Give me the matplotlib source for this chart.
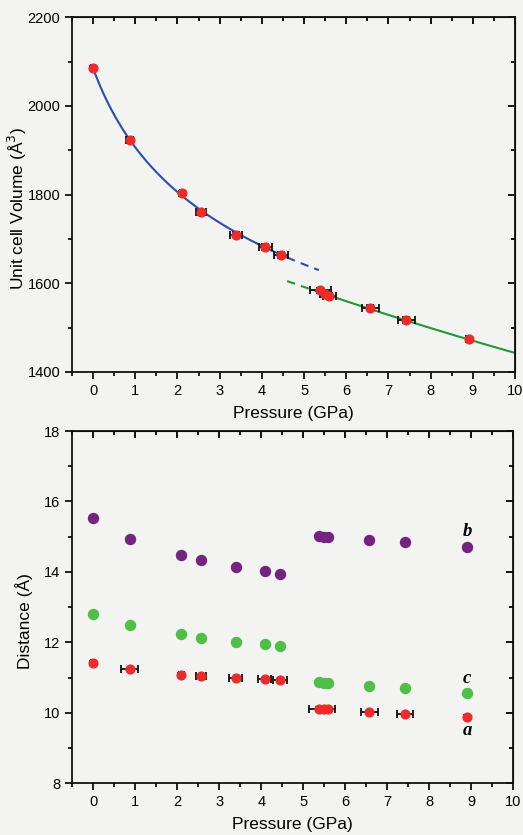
import numpy as np
import matplotlib
matplotlib.use("Agg")
import matplotlib.pyplot as plt
from matplotlib.ticker import MultipleLocator

plt.rcParams['font.family'] = ['Liberation Sans', 'DejaVu Sans']

# ---- data ----
pressure = [0.0, 0.87, 2.10, 2.56, 3.39, 4.08, 4.45, 5.38, 5.50, 5.60, 6.57, 7.42, 8.90]
p_err = [0.04, 0.08, 0.05, 0.12, 0.15, 0.15, 0.17, 0.25, 0.12, 0.15, 0.20, 0.20, 0.05]
volume = [2085, 1923, 1803, 1760, 1710, 1682, 1664, 1584, 1575, 1572, 1545, 1517, 1474]
v_err = [5, 6, 5, 6, 6, 6, 6, 6, 6, 6, 6, 6, 6]
dist_a = [11.41, 11.25, 11.08, 11.04, 10.98, 10.95, 10.92, 10.12, 10.10, 10.10, 10.03, 9.97, 9.88]
dist_a_err = [0.06, 0.02, 0.06, 0.04, 0.03, 0.03, 0.03, 0.04, 0.05, 0.04, 0.03, 0.03, 0.06]
p_err_a = [0.04, 0.20, 0.06, 0.12, 0.15, 0.15, 0.17, 0.25, 0.12, 0.15, 0.20, 0.20, 0.04]
dist_b = [15.52, 14.93, 14.48, 14.33, 14.13, 14.03, 13.95, 15.02, 15.00, 14.98, 14.92, 14.84, 14.72]
dist_c = [12.81, 12.48, 12.25, 12.12, 12.01, 11.95, 11.90, 10.89, 10.86, 10.85, 10.77, 10.71, 10.57]

# Murnaghan EOS fit parameters (phase I and phase II)
eos1 = dict(V0=2085.0, P0=0.0, K0=8.0, Kp=7.1)
eos2 = dict(V0=1605.0, P0=4.6, K0=48.1, Kp=1.0)

def murnaghan(P, V0, P0, K0, Kp):
    return V0 * (1 + Kp * (P - P0) / K0) ** (-1.0 / Kp)

bg = '#f3f3f1'
red = '#ee2b2b'
purple = '#74237f'
green = '#4fbf45'
blue_line = '#2c4fae'
green_line = '#1f9a35'

fig = plt.figure(figsize=(5.23, 8.35), dpi=100)
fig.patch.set_facecolor(bg)

ax1 = fig.add_axes([0.1377, 0.5545, 0.847, 0.4248])
ax2 = fig.add_axes([0.1377, 0.0619, 0.8441, 0.4219])

for ax in (ax1, ax2):
    ax.set_facecolor(bg)
    for s in ax.spines.values():
        s.set_linewidth(1.3)
        s.set_color('#111111')
    ax.set_xlim(-0.5, 10)
    ax.xaxis.set_major_locator(MultipleLocator(1))
    ax.xaxis.set_minor_locator(MultipleLocator(0.5))
    ax.tick_params(which='both', direction='out', top=False, right=False, width=1.3, labelsize=10.5, color='#111111')
    ax.tick_params(which='major', length=5)
    ax.tick_params(which='minor', length=3)
    axt = ax.secondary_xaxis('top')
    axt.xaxis.set_major_locator(MultipleLocator(1))
    axt.xaxis.set_minor_locator(MultipleLocator(0.5))
    axt.tick_params(which='both', direction='in', labeltop=False, width=1.3)
    axt.tick_params(which='major', length=5)
    axt.tick_params(which='minor', length=3)
    axr = ax.secondary_yaxis('right')
    axr.tick_params(which='both', direction='in', labelright=False, width=1.3)
    axr.tick_params(which='major', length=5)
    axr.tick_params(which='minor', length=3)
    ax._axr = axr
    ax.set_xlabel('Pressure (GPa)', fontsize=12.5, labelpad=6)

# ---- top panel ----
p1s = np.linspace(0, 4.6, 200)
p1d = np.linspace(4.6, 5.35, 40)
p2d = np.linspace(4.6, 5.3, 40)
p2s = np.linspace(5.3, 10, 200)
ax1.plot(p1s, murnaghan(p1s, **eos1), color=blue_line, lw=1.5, zorder=2)
ax1.plot(p1d, murnaghan(p1d, **eos1), color=blue_line, lw=1.5, ls=(0, (4, 3)), zorder=2)
ax1.plot(p2d, murnaghan(p2d, **eos2), color=green_line, lw=1.5, ls=(0, (4, 3)), zorder=2)
ax1.plot(p2s, murnaghan(p2s, **eos2), color=green_line, lw=1.5, zorder=2)
ax1.errorbar(pressure, volume, xerr=p_err, yerr=v_err, fmt='none', ecolor='#111111',
             elinewidth=1.3, capsize=3, capthick=1.3, zorder=3)
ax1.plot(pressure, volume, 'o', color=red, ms=6.3, mec=red, zorder=4)

ax1.set_ylim(1400, 2200)
ax1.yaxis.set_major_locator(MultipleLocator(200))
ax1.yaxis.set_minor_locator(MultipleLocator(100))
ax1._axr.yaxis.set_major_locator(MultipleLocator(200))
ax1._axr.yaxis.set_minor_locator(MultipleLocator(100))
ax1.set_ylabel('Unit cell Volume (Å$^3$)', fontsize=12.5)
ax1.yaxis.set_label_coords(-0.098, 0.46)

# ---- bottom panel ----
ax2.plot(pressure, dist_b, 'o', color=purple, ms=7.2, zorder=4)
ax2.plot(pressure, dist_c, 'o', color=green, ms=7.2, zorder=4)
ax2.errorbar(pressure, dist_a, xerr=p_err_a, yerr=dist_a_err, fmt='none', ecolor='#111111',
             elinewidth=1.3, capsize=3, capthick=1.3, zorder=3)
ax2.plot(pressure, dist_a, 'o', color=red, ms=6.3, zorder=4)

ax2.set_ylim(8, 18)
ax2.yaxis.set_major_locator(MultipleLocator(2))
ax2.yaxis.set_minor_locator(MultipleLocator(1))
ax2._axr.yaxis.set_major_locator(MultipleLocator(2))
ax2._axr.yaxis.set_minor_locator(MultipleLocator(1))
ax2.set_ylabel('Distance (Å)', fontsize=12.5)
ax2.yaxis.set_label_coords(-0.088, 0.46)

lab_font = dict(family=['Liberation Serif', 'DejaVu Serif'], style='italic', weight='bold', fontsize=13.5)
ax2.text(8.9, 15.15, 'b', ha='center', va='center', **lab_font)
ax2.text(8.9, 10.98, 'c', ha='center', va='center', **lab_font)
ax2.text(8.9, 9.5, 'a', ha='center', va='center', **lab_font)

fig.savefig('out.png', dpi=100, facecolor=bg)
